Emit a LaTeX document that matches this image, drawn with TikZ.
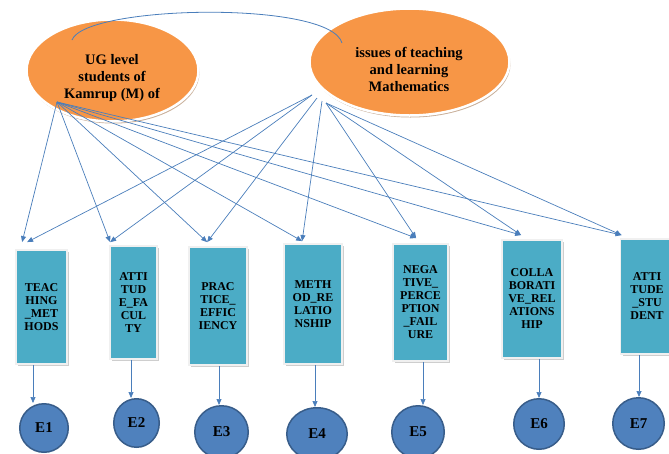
\documentclass[tikz,border=0pt]{standalone}
\usepackage{fontspec}
\setmainfont{Liberation Serif}
\usetikzlibrary{arrows.meta,shapes.geometric,shadows,calc}
\definecolor{orangefill}{HTML}{F79646}
\definecolor{tealfill}{HTML}{4BACC6}
\definecolor{bluefill}{HTML}{4F81BD}
\definecolor{blueedge}{HTML}{385D8A}
\definecolor{linecol}{HTML}{4A7EBB}
\definecolor{shadowbrown}{HTML}{B08A6A}
\begin{document}
\begin{tikzpicture}[x=1pt,y=-1pt,
  oval/.style={ellipse, fill=orangefill, draw=white, line width=2.5pt, inner sep=0pt,
    drop shadow={shadow xshift=1pt, shadow yshift=-2pt, fill=shadowbrown, opacity=0.7}},
  etext/.style={align=center, font=\fontsize{14.5}{17}\selectfont\bfseries, inner sep=0pt},
  varbox/.style={rectangle, fill=tealfill, draw=white!88!gray, line width=1.8pt, inner sep=0pt,
    align=center, font=\fontsize{12}{13}\selectfont\bfseries,
    drop shadow={shadow xshift=2pt, shadow yshift=-2pt, fill=gray!55, opacity=0.7}},
  err/.style={ellipse, fill=bluefill, draw=blueedge, line width=1.5pt, inner sep=0pt,
    font=\fontsize{15}{17}\selectfont\bfseries},
  conn/.style={draw=linecol, line width=0.7pt, -{Triangle[length=6pt,width=5pt]}},
  arc/.style={draw=linecol, line width=0.8pt}
]
\useasboundingbox (0,0) rectangle (669,453);

% top ellipses
\node[oval, minimum width=172pt, minimum height=102pt] (el1) at (112.5,70.5) {};
\node[etext] (t1) at (112,78) {UG level\\students of\\Kamrup (M) of};
\node[oval, minimum width=200pt, minimum height=107pt] (el2) at (409.5,62) {};
\node[etext] (t2) at (409,69) {issues of teaching\\and learning\\Mathematics};

% curved link
\coordinate (c1) at ([shift={(-40.5,-30.5)}]el1.center);
\coordinate (c2) at ([shift={(-67.5,-19)}]el2.center);
\draw[arc] (c1) .. controls (85,5) and (330,0) .. (c2);

% boxes
\node[varbox, minimum width=51pt, minimum height=114pt] (b1) at (41.5,307) {TEAC\\HING\\\_MET\\HODS};
\node[varbox, minimum width=47pt, minimum height=113pt] (b2) at (133.5,302.5) {ATTI\\TUD\\E\_FA\\CUL\\TY};
\node[varbox, minimum width=58pt, minimum height=118pt] (b3) at (218,306) {PRAC\\TICE\_\\EFFIC\\IENCY};
\node[varbox, minimum width=58pt, minimum height=120pt] (b4) at (313,304) {METH\\OD\_RE\\LATIO\\NSHIP};
\node[varbox, minimum width=55pt, minimum height=117pt] (b5) at (420.5,302.5) {NEGA\\TIVE\_\\PERCE\\PTION\\\_FAIL\\URE};
\node[varbox, minimum width=60pt, minimum height=118pt] (b6) at (532,299) {COLLA\\BORATI\\VE\_REL\\ATIONS\\HIP};
\node[varbox, minimum width=53pt, minimum height=115pt] (b7) at (647,296.5) {ATTI\\TUDE\\\_STU\\DENT};

% error circles
\node[err, minimum width=48.5pt, minimum height=48.5pt] (e1) at (44,428) {E1};
\node[err, minimum width=45.5pt, minimum height=48.5pt] (e2) at (136.5,423) {E2};
\node[err, minimum width=53.5pt, minimum height=52.5pt] (e3) at (221.5,432) {E3};
\node[err, minimum width=60.5pt, minimum height=52.5pt] (e4) at (317,434) {E4};
\node[err, minimum width=52.5pt, minimum height=52.5pt] (e5) at (418,432) {E5};
\node[err, minimum width=50.5pt, minimum height=50.5pt] (e6) at (539,424) {E6};
\node[err, minimum width=51.5pt, minimum height=51.5pt] (e7) at (638.5,423.5) {E7};

% box -> error arrows
\draw[conn] ([xshift=-8.5pt]b1.south) -- ([xshift=-8.5pt]b1.south |- e1.north);
\draw[conn] ([xshift=-2.5pt]b2.south) -- ([xshift=-2.5pt]b2.south |- e2.north);
\draw[conn] ([xshift=1pt]b3.south) -- ([xshift=1pt]b3.south |- e3.north);
\draw[conn] ([xshift=2pt]b4.south) -- ([xshift=2pt]b4.south |- e4.north);
\draw[conn] ([xshift=2.5pt]b5.south) -- ([xshift=2.5pt]b5.south |- e5.north);
\draw[conn] ([xshift=7pt]b6.south) -- ([xshift=7pt]b6.south |- e6.north);
\draw[conn] ([xshift=-8pt]b7.south) -- ([xshift=-8pt]b7.south |- e7.north);

% sources
\coordinate (s1) at ([shift={(-55.5,31.5)}]el1.center);
\coordinate (s2a) at ([shift={(-97.5,33)}]el2.center);
\coordinate (s2b) at ([shift={(-92.5,36)}]el2.center);
\coordinate (s2c) at ([shift={(-87.5,39)}]el2.center);
\coordinate (s2d) at ([shift={(-83.5,41)}]el2.center);

% from left ellipse
\draw[conn] (s1) -- ([shift={(7,-7)}]b1.north west);
\draw[conn] (s1) -- ([shift={(1,-3)}]b2.north west);
\draw[conn] (s1) -- ([shift={(19,-4)}]b3.north west);
\draw[conn] (s1) -- ([shift={(19,-2)}]b4.north west);
\draw[conn] (s1) -- ([shift={(24,-5)}]b5.north west);
\draw[conn] (s1) -- ([shift={(20,-4)}]b6.north west);
\draw[conn] (s1) -- ([shift={(2,-3)}]b7.north west);

% from right ellipse
\draw[conn] (s2a) -- ([shift={(12,-7)}]b1.north west);
\draw[conn] (s2a) -- ([shift={(1,-3)}]b2.north west);
\draw[conn] (s2b) -- ([shift={(19,-4)}]b3.north west);
\draw[conn] (s2c) -- ([shift={(19,-2)}]b4.north west);
\draw[conn] (s2d) -- ([shift={(24,-5)}]b5.north west);
\draw[conn] (s2d) -- ([shift={(20,-4)}]b6.north west);
\draw[conn] (s2d) -- ([shift={(2,-3)}]b7.north west);
\end{tikzpicture}
\end{document}
